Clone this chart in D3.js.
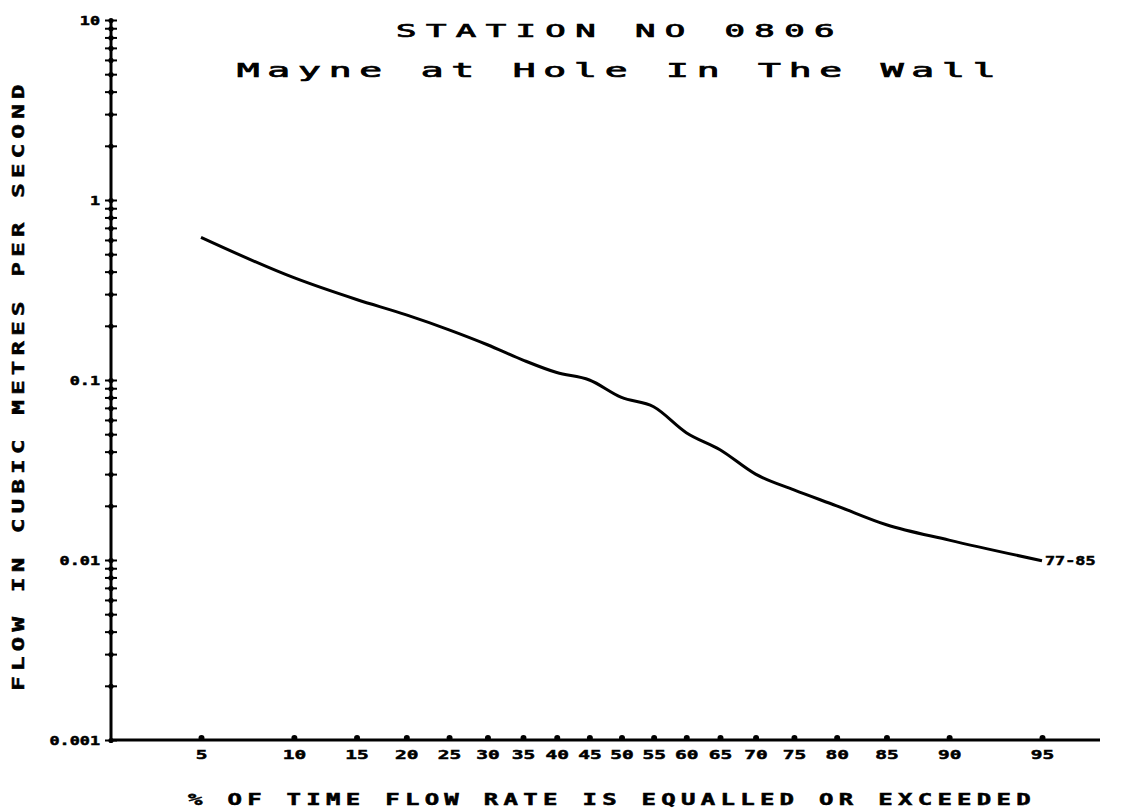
<!DOCTYPE html>
<html>
<head>
<meta charset="utf-8">
<script src="https://cdn.jsdelivr.net/npm/d3@7"></script>
<style>
  body { margin: 0; background: #fff; }
  svg text { font-family: "DejaVu Sans Mono", monospace; fill: #000; }
</style>
</head>
<body>
<div id="container"></div>
<script>
/* CONSTANTS AND GLOBALS */
const width = 1122;
const height = 810;

/* DATA */
const titleLines = ["STATION NO 0806", "Mayne at Hole In The Wall"];
const yTitle = "FLOW IN CUBIC METRES PER SECOND";
const xTitle = "% OF TIME FLOW RATE IS EQUALLED OR EXCEEDED";
const periodLabel = "77-85";

const pctTicks = [5, 10, 15, 20, 25, 30, 35, 40, 45, 50, 55, 60, 65, 70, 75, 80, 85, 90, 95];
const yTickLabels = {0.001: "0.001", 0.01: "0.01", 0.1: "0.1", 1: "1", 10: "10"};

// % of time exceeded vs flow (m3/s)
const pctExceeded = [5, 10, 15, 20, 25, 30, 35, 40, 45, 50, 55, 60, 65, 70, 75, 80, 85, 90, 95];
const flow = [0.62, 0.37, 0.28, 0.23, 0.19, 0.157, 0.129, 0.110, 0.100, 0.080, 0.071, 0.051, 0.041, 0.030, 0.0245, 0.020, 0.0157, 0.0129, 0.0099];

// inverse normal cdf (Acklam) for the probability axis
function probit(p) {
  const a = [-3.969683028665376e+01, 2.209460984245205e+02, -2.759285104469687e+02, 1.383577518672690e+02, -3.066479806614716e+01, 2.506628277459239e+00];
  const b = [-5.447609879822406e+01, 1.615858368580409e+02, -1.556989798598866e+02, 6.680131188771972e+01, -1.328068155288572e+01];
  const c = [-7.784894002430293e-03, -3.223964580411365e-01, -2.400758277161838e+00, -2.549732539343734e+00, 4.374664141464968e+00, 2.938163982698783e+00];
  const d = [7.784695709041462e-03, 3.224671290700398e-01, 2.445134137142996e+00, 3.754408661907416e+00];
  const pl = 0.02425;
  if (p < pl) {
    const q = Math.sqrt(-2 * Math.log(p));
    return (((((c[0]*q+c[1])*q+c[2])*q+c[3])*q+c[4])*q+c[5]) / ((((d[0]*q+d[1])*q+d[2])*q+d[3])*q+1);
  }
  if (p > 1 - pl) {
    const q = Math.sqrt(-2 * Math.log(1 - p));
    return -(((((c[0]*q+c[1])*q+c[2])*q+c[3])*q+c[4])*q+c[5]) / ((((d[0]*q+d[1])*q+d[2])*q+d[3])*q+1);
  }
  const q = p - 0.5, r = q * q;
  return (((((a[0]*r+a[1])*r+a[2])*r+a[3])*r+a[4])*r+a[5])*q / (((((b[0]*r+b[1])*r+b[2])*r+b[3])*r+b[4])*r+1);
}

/* SCALES */
const axisX = 111, axisY = 740, axisRight = 1100, axisTop = 20;
const zScale = d3.scaleLinear()
  .domain([probit(0.05), probit(0.95)])
  .range([201, 1042]);
const xScale = p => zScale(probit(p / 100));
const yScale = d3.scaleLog().domain([0.001, 10]).range([axisY, axisTop]);

/* HTML ELEMENTS */
const svg = d3.select("#container")
  .append("svg")
  .attr("width", width)
  .attr("height", height);

// axis lines
svg.append("line")
  .attr("x1", axisX).attr("x2", axisRight)
  .attr("y1", axisY).attr("y2", axisY)
  .attr("stroke", "#000").attr("stroke-width", 3);
svg.append("line")
  .attr("x1", axisX).attr("x2", axisX)
  .attr("y1", axisY).attr("y2", axisTop)
  .attr("stroke", "#000").attr("stroke-width", 3);

// x axis (probability scale)
const xAxis = d3.axisBottom(zScale)
  .tickValues(pctTicks.map(p => probit(p / 100)))
  .tickFormat((d, i) => pctTicks[i])
  .tickSize(0)
  .tickPadding(0);

const gx = svg.append("g")
  .attr("transform", `translate(0,${axisY})`)
  .call(xAxis);
gx.select(".domain").remove();
gx.selectAll(".tick").append("circle")
  .attr("cy", -2).attr("r", 3).attr("fill", "#000");
gx.selectAll(".tick text")
  .attr("y", 0)
  .attr("dy", 0)
  .attr("transform", "translate(0,19) scale(1.5,1)")
  .attr("font-size", 13)
  .attr("font-weight", "bold")
  .attr("stroke", "#000").attr("stroke-width", 0.5)
  .attr("fill", "#000");

// y axis (log)
const yAxis = d3.axisLeft(yScale)
  .tickValues(yScale.ticks())
  .tickFormat(d => yTickLabels[d] || "")
  .tickSize(0)
  .tickPadding(0);

const gy = svg.append("g")
  .attr("transform", `translate(${axisX},0)`)
  .call(yAxis);
gy.select(".domain").remove();
gy.selectAll(".tick line")
  .attr("x1", -6).attr("x2", 6)
  .attr("stroke", "#000").attr("stroke-width", 2);
gy.selectAll(".tick").append("circle")
  .attr("r", 2.6).attr("fill", "#000");
gy.selectAll(".tick text")
  .attr("x", 0)
  .attr("dy", "0.35em")
  .attr("transform", "translate(-11,0) scale(1.4,1)")
  .attr("font-size", 12)
  .attr("font-weight", "bold")
  .attr("stroke", "#000").attr("stroke-width", 0.5)
  .attr("fill", "#000");

// flow duration curve
const line = d3.line()
  .x((d, i) => xScale(pctExceeded[i]))
  .y(d => yScale(d))
  .curve(d3.curveMonotoneX);

svg.append("path")
  .datum(flow)
  .attr("d", line)
  .attr("fill", "none")
  .attr("stroke", "#000")
  .attr("stroke-width", 3)
  .attr("stroke-linejoin", "round");

svg.append("text")
  .attr("transform", `translate(${xScale(pctExceeded[pctExceeded.length - 1]) + 3},${yScale(flow[flow.length - 1]) + 4}) scale(1.4,1)`)
  .attr("font-size", 12)
  .attr("font-weight", "bold")
  .attr("stroke", "#000").attr("stroke-width", 0.5)
  .text(periodLabel);

// titles
svg.append("text")
  .attr("transform", "translate(620,37) scale(2,1)")
  .attr("text-anchor", "middle")
  .attr("font-size", 17)
  .attr("letter-spacing", 4.7)
  .attr("stroke", "#000").attr("stroke-width", 0.7)
  .text(titleLines[0]);

svg.append("text")
  .attr("transform", "translate(620,77) scale(2,1)")
  .attr("text-anchor", "middle")
  .attr("font-size", 19)
  .attr("letter-spacing", 3.9)
  .attr("stroke", "#000").attr("stroke-width", 0.7)
  .text(titleLines[1]);

svg.append("text")
  .attr("transform", "translate(612,805) scale(1.6,1)")
  .attr("text-anchor", "middle")
  .attr("font-size", 15)
  .attr("font-weight", "bold")
  .attr("letter-spacing", 3.3)
  .attr("stroke", "#000").attr("stroke-width", 0.5)
  .text(xTitle);

svg.append("text")
  .attr("transform", "translate(24,385) rotate(-90) scale(1.6,1)")
  .attr("text-anchor", "middle")
  .attr("font-size", 15)
  .attr("font-weight", "bold")
  .attr("letter-spacing", 3.3)
  .attr("stroke", "#000").attr("stroke-width", 0.5)
  .text(yTitle);
</script>
</body>
</html>
